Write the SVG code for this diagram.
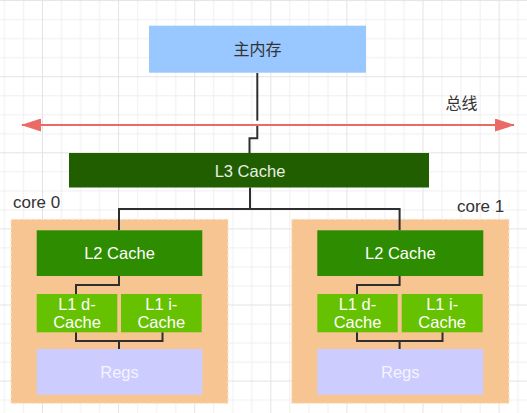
<svg xmlns="http://www.w3.org/2000/svg" width="527" height="413" viewBox="0 0 527 413">
<style>
.t{font-family:"Liberation Sans","Noto Sans CJK SC",sans-serif;font-size:16.5px;text-anchor:middle}
.cj{font-family:"Noto Sans CJK SC","Liberation Sans",sans-serif;font-size:16px;text-anchor:middle;fill:#333}
.lbl{font-family:"Liberation Sans",sans-serif;font-size:17px;fill:#333}
.w{fill:#ffffff}
.core{fill:#f7c592;stroke:#fde3c8;stroke-width:1.2;stroke-dasharray:3 3}
.edge{fill:none;stroke:#2e2e2e;stroke-width:2}
</style>
<defs>
<pattern id="grid" patternUnits="userSpaceOnUse" x="42" y="76.2" width="76.1" height="76.1">
<rect x="19.03" y="0" width="1" height="76.1" fill="#efefef"/>
<rect x="38.05" y="0" width="1" height="76.1" fill="#efefef"/>
<rect x="57.08" y="0" width="1" height="76.1" fill="#efefef"/>
<rect x="0" y="19.03" width="76.1" height="1" fill="#efefef"/>
<rect x="0" y="38.05" width="76.1" height="1" fill="#efefef"/>
<rect x="0" y="57.08" width="76.1" height="1" fill="#efefef"/>
<rect x="0" y="0" width="1" height="76.1" fill="#e3e3e3"/>
<rect x="0" y="0" width="76.1" height="1" fill="#e3e3e3"/>
</pattern>
<marker id="ah" viewBox="0 0 20 13" refX="19" refY="6.5" markerUnits="userSpaceOnUse" markerWidth="20" markerHeight="13" orient="auto-start-reverse">
<path d="M0,0 L20,6.5 L0,13 Z" fill="#ea6b66"/>
</marker>
</defs>
<rect width="527" height="413" fill="#ffffff"/>
<rect width="527" height="413" fill="url(#grid)"/>

<g id="core0">
<rect class="core" x="11" y="219.3" width="217" height="184"/>
<text class="lbl" x="13" y="208.3">core 0</text>
</g>
<g id="core1">
<rect class="core" x="291.7" y="219.3" width="217.3" height="184"/>
<text class="lbl" x="457" y="211.7">core 1</text>
</g>

<g id="connectors">
<path class="edge" d="M257.3,73 V120.7"/>
<path class="edge" d="M257.3,126 V138.3 H249.5 V153"/>
<path class="edge" d="M250,187.5 V209 H119 V230.3"/>
<path class="edge" d="M250,209 H399.6 V230.3"/>
<path class="edge" d="M119,276 V285 H76 V294"/>
<path class="edge" d="M76,332.3 V341 H162.5 V332.3 M119,341 V349"/>
<path class="edge" d="M399.6,276 V285 H357 V294"/>
<path class="edge" d="M357,332.3 V341 H442.5 V332.3 M399.6,341 V349"/>
<line x1="22" y1="125" x2="514" y2="125" stroke="#ea6b66" stroke-width="2" marker-start="url(#ah)" marker-end="url(#ah)"/>
</g>

<g id="main-memory">
<rect x="149" y="25.7" width="217" height="47" fill="#99c7ff"/>
<text class="cj" x="257.5" y="55">主内存</text>
</g>
<g id="bus-label">
<text class="cj" x="461.5" y="108.5">总线</text>
</g>
<g id="l3">
<rect x="69" y="153" width="360" height="34.5" fill="#205e00"/>
<text class="t" x="250" y="177" fill="#e8eee4">L3 Cache</text>
</g>

<g id="l2-0">
<rect x="36.7" y="230.3" width="165.6" height="45.7" fill="#2d8c00"/>
<text class="t w" x="119.5" y="259.3">L2 Cache</text>
</g>
<g id="l1d-0">
<rect x="36.7" y="294" width="80.6" height="38.3" fill="#66c200"/>
<text class="t w" x="77" y="310">L1 d-</text>
<text class="t w" x="77" y="328">Cache</text>
</g>
<g id="l1i-0">
<rect x="121" y="294" width="80.7" height="38.3" fill="#66c200"/>
<text class="t w" x="161.3" y="310">L1 i-</text>
<text class="t w" x="161.3" y="328">Cache</text>
</g>
<g id="regs-0">
<rect x="36.7" y="349" width="165.6" height="45.7" fill="#ccccff"/>
<text class="t" x="119.5" y="378" fill="#f4f4ff">Regs</text>
</g>

<g id="l2-1">
<rect x="317.3" y="230.3" width="166" height="45.7" fill="#2d8c00"/>
<text class="t w" x="400.3" y="259.3">L2 Cache</text>
</g>
<g id="l1d-1">
<rect x="317.3" y="294" width="80.4" height="38.3" fill="#66c200"/>
<text class="t w" x="357.5" y="310">L1 d-</text>
<text class="t w" x="357.5" y="328">Cache</text>
</g>
<g id="l1i-1">
<rect x="401.7" y="294" width="81" height="38.3" fill="#66c200"/>
<text class="t w" x="442.2" y="310">L1 i-</text>
<text class="t w" x="442.2" y="328">Cache</text>
</g>
<g id="regs-1">
<rect x="317.3" y="349" width="166" height="45.7" fill="#ccccff"/>
<text class="t" x="400.3" y="378" fill="#f4f4ff">Regs</text>
</g>
</svg>
